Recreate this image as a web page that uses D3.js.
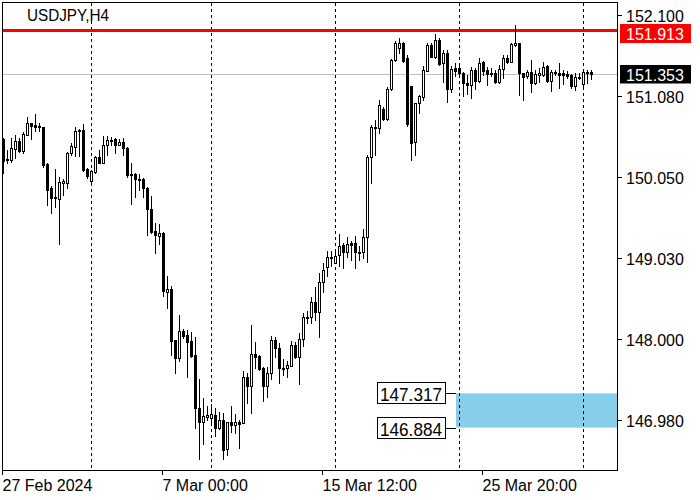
<!DOCTYPE html>
<html><head><meta charset="utf-8">
<script src="https://cdn.jsdelivr.net/npm/d3@7"></script>
<style>body{margin:0;background:#fff}svg{display:block}text{font-family:"Liberation Sans",Arial,sans-serif}</style>
</head><body><svg id="c" width="700" height="500"></svg>
<script>
const symbol = "USDJPY,H4";
const open = [
150.533,150.267,150.267,150.406,150.507,150.381,150.583,150.735,150.710,150.697,
150.684,150.217,149.913,149.800,149.774,149.976,149.976,150.356,150.432,150.634,
150.647,150.154,150.002,150.116,150.305,150.229,150.457,150.507,150.533,150.457,
150.495,150.419,150.090,150.090,150.027,150.027,149.913,149.648,149.370,149.307,
149.344,148.599,148.636,147.992,147.764,148.105,148.055,147.979,147.802,147.132,
146.955,147.018,147.006,147.044,146.879,146.980,146.614,146.955,146.917,146.955,
146.942,147.524,147.410,147.815,147.790,147.638,147.410,147.575,147.992,147.891,
147.638,147.638,147.663,147.929,147.777,148.004,148.282,148.282,148.472,148.346,
148.725,148.915,149.041,148.965,149.066,149.193,149.104,149.218,149.218,149.104,
149.104,149.294,150.305,150.672,150.672,150.912,150.786,151.165,151.531,151.683,
151.746,151.560,151.203,150.495,150.988,151.064,151.392,151.721,151.569,151.784,
151.494,151.620,151.165,151.430,151.430,151.367,151.241,151.215,151.405,151.266,
151.506,151.405,151.354,151.367,151.253,151.418,151.557,151.506,151.721,151.746,
151.367,151.329,151.380,151.241,151.342,151.342,151.456,151.266,151.380,151.367,
151.367,151.354,151.342,151.203,151.304,151.228,151.380,151.380];
const high = [
150.545,150.394,150.545,150.583,150.545,150.621,150.811,150.735,150.849,150.735,
150.684,150.229,149.939,150.154,150.052,150.027,150.368,150.482,150.684,150.659,
150.722,150.166,150.141,150.318,150.394,150.571,150.571,150.558,150.545,150.533,
150.545,150.432,150.229,150.103,150.090,150.040,149.926,149.812,149.471,149.458,
149.357,148.801,148.674,147.992,148.308,148.131,148.118,148.093,148.030,147.499,
147.258,147.157,147.183,147.132,147.082,147.069,146.955,147.157,147.056,146.980,
147.600,147.575,148.181,147.966,147.802,147.650,147.650,148.042,148.030,147.954,
147.752,147.726,147.979,147.966,148.080,148.333,148.358,148.535,148.662,148.839,
148.965,149.117,149.117,149.104,149.332,149.218,149.294,149.243,149.307,149.180,
149.395,150.330,150.710,150.773,151.026,150.937,151.190,151.544,151.772,151.810,
151.759,151.595,151.203,150.988,151.089,151.456,151.746,151.746,151.860,151.810,
151.658,151.658,151.456,151.494,151.456,151.380,151.342,151.443,151.430,151.557,
151.519,151.443,151.430,151.405,151.468,151.595,151.595,151.746,151.974,151.746,
151.367,151.405,151.531,151.405,151.430,151.506,151.468,151.405,151.405,151.494,
151.405,151.392,151.354,151.367,151.367,151.405,151.405,151.405];
const low = [
150.103,150.229,150.242,150.293,150.368,150.356,150.583,150.533,150.634,150.634,
150.179,149.698,149.597,149.673,149.205,149.825,149.913,150.330,150.318,150.318,
150.128,150.040,149.976,150.103,150.229,150.229,150.330,150.457,150.356,150.457,
150.330,150.052,149.711,149.800,149.888,149.800,149.319,149.344,149.092,149.205,
148.548,148.396,147.802,147.575,147.726,148.017,147.524,147.777,146.879,146.487,
146.677,146.980,146.917,146.778,146.867,146.487,146.538,146.829,146.816,146.626,
146.942,147.195,147.069,147.638,147.612,147.221,147.271,147.499,147.777,147.448,
147.549,147.524,147.663,147.764,147.435,147.916,148.207,148.207,148.245,148.030,
148.599,148.801,148.927,148.965,148.927,148.902,149.041,149.003,148.902,149.003,
149.028,148.978,149.976,150.330,150.609,150.773,150.773,151.152,151.519,151.620,
151.506,150.697,150.267,150.330,150.861,151.026,151.392,151.569,151.557,151.468,
151.253,151.001,151.127,151.329,151.329,151.076,151.102,151.051,151.165,151.253,
151.342,151.215,151.329,151.241,151.241,151.304,151.494,151.506,151.708,151.089,
151.026,151.304,151.127,151.228,151.253,151.329,151.253,151.140,151.342,151.178,
151.228,151.304,151.178,151.152,151.291,151.203,151.241,151.291];
const close = [
150.255,150.280,150.419,150.507,150.381,150.596,150.735,150.697,150.684,150.684,
150.204,149.888,149.787,149.787,149.989,150.002,150.356,150.444,150.634,150.647,
150.141,150.065,150.128,150.305,150.229,150.457,150.520,150.520,150.457,150.495,
150.419,150.078,150.078,150.027,150.014,149.913,149.648,149.357,149.319,149.344,
148.611,148.636,147.979,147.764,148.105,148.042,147.966,147.790,147.132,146.955,
147.031,147.044,147.056,146.879,146.980,146.601,146.955,146.917,146.955,146.930,
147.524,147.410,147.815,147.777,147.625,147.410,147.575,147.992,147.891,147.638,
147.625,147.676,147.929,147.777,148.004,148.282,148.270,148.472,148.346,148.725,
148.877,149.041,149.028,149.054,149.180,149.104,149.205,149.193,149.104,149.092,
149.294,150.305,150.684,150.684,150.963,150.786,151.165,151.531,151.746,151.746,
151.519,150.722,150.482,150.988,151.076,151.405,151.721,151.569,151.784,151.481,
151.620,151.165,151.418,151.392,151.367,151.241,151.215,151.405,151.266,151.494,
151.392,151.354,151.367,151.253,151.418,151.557,151.506,151.734,151.746,151.367,
151.317,151.380,151.241,151.354,151.367,151.443,151.266,151.380,151.367,151.342,
151.342,151.329,151.203,151.317,151.317,151.380,151.367,151.354];
const xTickIndex = [0, 40, 80, 120];
const xTickLabels = ["27 Feb 2024", "7 Mar 00:00", "15 Mar 12:00", "25 Mar 20:00"];
const separatorIndex = [22, 52, 83, 114, 145];
const yTicks = [152.100, 151.080, 150.050, 149.030, 148.000, 146.980];
const resistance = 151.913;
const lastPrice = 151.353;
const zoneTop = 147.317, zoneBottom = 146.884;

const svg = d3.select("#c");
const PL = 3, PT = 3, PR = 618, PB = 471;
const x = d3.scaleLinear().domain([0, 1]).range([3.5, 7.5]);
const y = d3.scaleLinear().domain([146.98, 152.1]).range([420, 15]);
const fmt = d3.format(".3f");
const ry = v => Math.round(y(v));

svg.append("rect").attr("width", 700).attr("height", 500).attr("fill", "#fff");
svg.append("clipPath").attr("id", "clip").append("rect")
  .attr("x", PL).attr("y", PT).attr("width", PR - PL).attr("height", PB - PT);
const plot = svg.append("g").attr("clip-path", "url(#clip)");

// support zone
const zx0 = x(separatorIndex[3]) - 3.5;
plot.append("rect").attr("x", zx0).attr("y", y(zoneTop))
  .attr("width", PR - zx0).attr("height", y(zoneBottom) - y(zoneTop)).attr("fill", "#87ceeb");

// week separators
plot.selectAll("line.sep").data(separatorIndex).join("line").attr("class", "sep")
  .attr("x1", d => x(d)).attr("x2", d => x(d)).attr("y1", PT).attr("y2", PB)
  .attr("stroke", "#000").attr("stroke-width", 1).attr("stroke-dasharray", "3,3");

// last price line
plot.append("line").attr("x1", PL).attr("x2", PR).attr("y1", ry(lastPrice) + 0.5).attr("y2", ry(lastPrice) + 0.5)
  .attr("stroke", "#c0c0c0").attr("stroke-width", 1);
// resistance line
plot.append("rect").attr("x", PL).attr("y", ry(resistance) - 1).attr("width", PR - PL).attr("height", 3).attr("fill", "#ff0000");

// candles
const idx = d3.range(open.length);
const cg = plot.append("g");
cg.selectAll("line.w").data(idx).join("line").attr("class", "w")
  .attr("x1", i => x(i)).attr("x2", i => x(i))
  .attr("y1", i => ry(high[i])).attr("y2", i => ry(low[i]) + 1)
  .attr("stroke", "#000").attr("stroke-width", 1);
cg.selectAll("rect.b").data(idx).join("rect").attr("class", "b")
  .attr("x", i => x(i) - 1)
  .attr("y", i => ry(Math.max(open[i], close[i])) + 0.5)
  .attr("width", 2)
  .attr("height", i => Math.max(0, ry(Math.min(open[i], close[i])) - ry(Math.max(open[i], close[i]))))
  .attr("fill", i => close[i] >= open[i] ? "#fff" : "#000")
  .attr("stroke", "#000").attr("stroke-width", 1);

// frame
svg.append("rect").attr("x", PL - 0.5).attr("y", PT - 0.5).attr("width", PR - PL).attr("height", PB - PT)
  .attr("fill", "none").attr("stroke", "#000").attr("stroke-width", 1);

// title
svg.append("text").attr("x", 27).attr("y", 21).attr("font-size", 16).attr("textLength", 82)
  .attr("lengthAdjust", "spacingAndGlyphs").attr("fill", "#000").text(symbol);

// right axis
const ya = svg.append("g");
ya.selectAll("line").data(yTicks).join("line")
  .attr("x1", PR).attr("x2", PR + 4).attr("y1", d => ry(d) + 0.5).attr("y2", d => ry(d) + 0.5)
  .attr("stroke", "#000");
ya.selectAll("text").data(yTicks).join("text")
  .attr("x", 626).attr("y", d => ry(d) + 6.5).attr("font-size", 16).attr("fill", "#000").text(d => fmt(d));

// price labels
const rpy = ry(resistance);
svg.append("rect").attr("x", 620).attr("y", rpy - 6).attr("width", 71).attr("height", 19).attr("fill", "#ff0000");
svg.append("text").attr("x", 626).attr("y", rpy + 9.5).attr("font-size", 16).attr("fill", "#fff").text(fmt(resistance));
const lpy = ry(lastPrice);
svg.append("rect").attr("x", 620).attr("y", lpy - 9).attr("width", 71).attr("height", 18.5).attr("fill", "#000");
svg.append("text").attr("x", 626).attr("y", lpy + 7).attr("font-size", 16).attr("fill", "#fff").text(fmt(lastPrice));

// bottom axis
const xa = svg.append("g");
xa.selectAll("line").data(xTickIndex).join("line")
  .attr("x1", i => Math.floor(x(i)) + 0.5 - 1).attr("x2", i => Math.floor(x(i)) + 0.5 - 1)
  .attr("y1", PB).attr("y2", PB + 4).attr("stroke", "#000");
xa.selectAll("text").data(xTickIndex).join("text")
  .attr("x", i => x(i) - 1).attr("y", 491).attr("font-size", 16).attr("fill", "#000")
  .text((d, k) => xTickLabels[k]);

// zone labels
[zoneTop, zoneBottom].forEach(v => {
  const py = y(v);
  const g = svg.append("g");
  g.append("rect").attr("x", 377.5).attr("y", Math.round(py) - 10.5).attr("width", 68).attr("height", 21)
    .attr("fill", "#fff").attr("stroke", "#000");
  g.append("text").attr("x", 380).attr("y", Math.round(py) + 7.5).attr("font-size", 19)
    .attr("textLength", 62).attr("lengthAdjust", "spacingAndGlyphs").attr("fill", "#000").text(fmt(v));
  g.append("line").attr("x1", 446).attr("x2", zx0).attr("y1", Math.round(py) + 0.5).attr("y2", Math.round(py) + 0.5)
    .attr("stroke", "#000");
});
</script></body></html>
